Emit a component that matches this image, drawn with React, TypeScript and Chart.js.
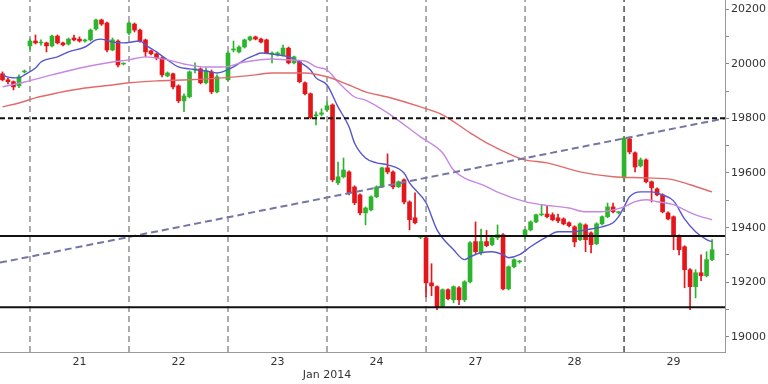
import React, { useEffect, useRef } from 'react';
import { Chart, registerables } from 'chart.js';

Chart.register(...registerables);

// ---- axis ranges ----
const X_MIN = -0.45;
const X_MAX = 131.35;
const Y_MIN = 18945;
const Y_MAX = 20233;

// ---- candles (one per index) ----
const OPEN = [
  19963, 19941, 19934, 19919, 19970,
  20065, 20083, 20076, 20076, 20065, 20101, 20076, 20072, 20094, 20090, 20083, 20087, 20127, 20160, 20149, 20050, 20083, 19999,
  20112, 20145, 20123, 20087, 20047, 20036, 20021, 19955, 19963, 19919, 19864, 19879, 19977, 19981, 19930, 19970, 19897, null,
  19941, 20050, 20043, 20061, 20087, 20098, 20090, 20087, 20036, 20032, 20032, 20057, 20003, 20007, 19930, 19890, 19809, 19815,
  19831, 19849, 19564, 19586, 19604, 19549, 19520, 19454, 19465, 19513, 19549, 19619, 19604, 19550, 19575, 19494, 19436, 19365,
  19363, 19198, 19184, 19111, 19173, 19136, 19180, 19136, 19202, 19349, 19308, 19349, 19338, 19363, 19374, 19176, 19257, 19275,
  19367, 19392, 19421, 19447, 19450, 19447, 19436, 19432, 19418, 19403, 19356, 19410, 19381, 19341, 19414, 19440, 19476, 19455,
  19582, 19725, 19674, 19626, 19648, 19568, 19542, 19520, 19454, 19440, 19370, 19330, 19246, 19184, 19235, 19224, 19283,
];
const HIGH = [
  19970, 19948, 19937, 19959, 19977,
  20090, 20105, 20087, 20079, 20105, 20105, 20079, 20094, 20105, 20098, 20090, 20127, 20163, 20163, 20152, 20094, 20087, 20003,
  20152, 20149, 20127, 20090, 20050, 20039, 20025, 19970, 19966, 19923, 19890, 19974, 20003, 19985, 19985, 19977, 19959, null,
  20043, 20083, 20065, 20090, 20101, 20101, 20094, 20090, 20043, 20043, 20068, 20061, 20028, 20010, 19934, 19893, 19824, 19835,
  19860, 19853, 19640, 19655, 19608, 19553, 19524, 19476, 19516, 19553, 19622, 19670, 19608, 19571, 19579, 19498, 19527, 19370,
  19370, 19268, 19187, 19176, 19176, 19187, 19184, 19206, 19349, 19421, 19395, 19390, 19370, 19410, 19378, 19260, 19286, 19280,
  19396, 19425, 19450, 19483, 19480, 19454, 19450, 19436, 19421, 19407, 19418, 19414, 19385, 19418, 19443, 19490, 19490, 19460,
  19728, 19728, 19677, 19655, 19652, 19571, 19546, 19524, 19458, 19443, 19374, 19334, 19250, 19246, 19301, 19312, 19356,
];
const LOW = [
  19937, 19926, 19904, 19912, 19966,
  20050, 20072, 20068, 20043, 20061, 20072, 20065, 20068, 20083, 20079, 20079, 20083, 20123, 20140, 20043, 20047, 19988, 19995,
  20105, 20116, 20079, 20025, 20032, 20014, 19952, 19952, 19908, 19857, 19824, 19875, 19966, 19926, 19926, 19890, 19893, null,
  19937, 20043, 20039, 20057, 20083, 20087, 20076, 20036, 20003, 20028, 20028, 19999, 19999, 19930, 19886, 19798, 19776, 19809,
  19827, 19568, 19557, 19582, 19520, 19484, 19447, 19410, 19461, 19509, 19546, 19597, 19542, 19546, 19487, 19392, 19414, 19360,
  19147, 19151, 19100, 19107, 19136, 19125, 19118, 19129, 19198, 19305, 19300, 19330, 19334, 19356, 19172, 19172, 19253, 19270,
  19360, 19388, 19418, 19443, 19436, 19425, 19418, 19410, 19403, 19330, 19352, 19312, 19308, 19338, 19410, 19436, 19454, 19450,
  19578, 19670, 19604, 19622, 19564, 19494, 19516, 19454, 19428, 19319, 19300, 19180, 19100, 19143, 19206, 19220, 19279,
];
const CLOSE = [
  19941, 19934, 19915, 19952, 19973,
  20083, 20076, 20079, 20065, 20101, 20076, 20069, 20090, 20087, 20083, 20087, 20123, 20160, 20145, 20050, 20087, 19995, 20002,
  20149, 20123, 20083, 20043, 20036, 20021, 19959, 19966, 19915, 19864, 19882, 19970, 19981, 19930, 19974, 19897, 19952, null,
  20039, 20054, 20061, 20087, 20098, 20090, 20079, 20039, 20039, 20039, 20057, 20003, 20025, 19934, 19890, 19802, 19813, 19820,
  19846, 19575, 19586, 19611, 19527, 19491, 19454, 19472, 19513, 19549, 19619, 19604, 19549, 19568, 19494, 19429, 19418, 19368,
  19198, 19187, 19111, 19173, 19140, 19184, 19136, 19202, 19345, 19312, 19349, 19334, 19363, 19374, 19176, 19257, 19283, 19278,
  19392, 19421, 19447, 19450, 19440, 19429, 19425, 19414, 19407, 19348, 19414, 19356, 19338, 19414, 19440, 19476, 19458, 19458,
  19728, 19677, 19622, 19648, 19568, 19546, 19520, 19458, 19432, 19367, 19319, 19246, 19184, 19235, 19224, 19283, 19319,
];

// ---- moving averages (candle index, value) ----
const FAST_MA_IDX = [0, 1, 3, 4, 6, 7, 10, 12, 15, 17, 18, 20, 22, 25, 26, 28, 30, 32, 34, 37, 39, 40, 42, 44, 46, 47, 50, 52, 54, 56, 57, 59, 61, 63, 64, 66, 68, 70, 73, 74, 77, 79, 82, 84, 85, 87, 89, 91, 92, 94, 96, 99, 101, 104, 106, 109, 111, 112, 113, 114, 116, 118, 120, 122, 124, 126, 128, 129];
const FAST_MA = [19959, 19951, 19948, 19959, 19984, 20006, 20025, 20043, 20061, 20087, 20090, 20079, 20076, 20083, 20068, 20043, 20014, 19988, 19981, 19973, 19966, 19970, 19988, 20014, 20032, 20039, 20032, 20025, 20006, 19977, 19948, 19922, 19842, 19769, 19710, 19655, 19637, 19630, 19600, 19564, 19491, 19392, 19319, 19283, 19293, 19308, 19312, 19301, 19290, 19301, 19330, 19367, 19385, 19385, 19392, 19403, 19418, 19440, 19476, 19513, 19531, 19531, 19520, 19498, 19432, 19385, 19356, 19348];

const MID_MA_IDX = [0, 4, 9, 15, 20, 23, 26, 30, 33, 37, 40, 44, 49, 52, 55, 57, 59, 61, 64, 66, 70, 76, 80, 82, 88, 90, 95, 98, 103, 106, 109, 111, 113, 115, 117, 119, 122, 124, 126, 129];
const MID_MA = [19915, 19933, 19959, 19988, 20006, 20014, 20025, 20014, 19999, 19988, 19988, 20006, 20017, 20014, 20010, 19988, 19977, 19933, 19878, 19867, 19820, 19732, 19674, 19611, 19550, 19530, 19495, 19484, 19472, 19458, 19458, 19465, 19476, 19495, 19502, 19495, 19484, 19465, 19447, 19429];

const SLOW_MA_IDX = [0, 3, 6, 10, 15, 20, 23, 28, 34, 40, 46, 49, 52, 55, 59, 63, 66, 70, 76, 80, 85, 88, 93, 95, 99, 105, 111, 117, 122, 125, 129];
const SLOW_MA = [19842, 19856, 19875, 19893, 19911, 19922, 19930, 19937, 19941, 19948, 19959, 19966, 19966, 19966, 19952, 19922, 19897, 19878, 19842, 19813, 19747, 19710, 19662, 19648, 19637, 19604, 19586, 19582, 19575, 19557, 19531];

// ---- reference lines ----
const RESISTANCE = 19800;
const SUPPORTS = [19369, 19109];
const TREND_IDX = [X_MIN, X_MAX];
const TREND_VAL = [19272, 19800];

// ---- axis labels ----
const DAY_STARTS = [5, 23, 41, 59, 77, 95, 113];
const DAY_LABEL_POS = [14, 32, 50, 68, 86, 104, 122];
const DAY_LABELS = ['21', '22', '23', '24', '27', '28', '29'];
const MONTH_LABEL = 'Jan 2014';
const MONTH_POS = 59;
const Y_TICKS = [19000, 19100, 19200, 19300, 19400, 19500, 19600, 19700, 19800, 19900, 20000, 20100, 20200];

const UP = '#2cb52c';
const DOWN = '#e3161c';
const FONT = 'DejaVu Sans';

export default function App() {
  const ref = useRef<HTMLCanvasElement | null>(null);

  useEffect(() => {
    document.body.style.margin = '0';
    const canvas = ref.current;
    if (!canvas) return;

    const bodies: any[] = [];
    const wicks: any[] = [];
    const colors: string[] = [];
    for (let i = 0; i < OPEN.length; i++) {
      const o = OPEN[i], c = CLOSE[i], h = HIGH[i], l = LOW[i];
      if (o == null || c == null || h == null || l == null) {
        bodies.push({ x: i, y: null });
        wicks.push({ x: i, y: null });
        colors.push(UP);
        continue;
      }
      bodies.push({ x: i, y: [o, c] });
      wicks.push({ x: i, y: [l, h] });
      colors.push(c >= o ? UP : DOWN);
    }

    const maLine = (idx: number[], vals: number[], color: string, order: number) => ({
      type: 'line',
      data: idx.map((x, k) => ({ x, y: vals[k] })),
      borderColor: color,
      borderWidth: 1.4,
      pointRadius: 0,
      cubicInterpolationMode: 'monotone',
      order,
    });

    const labelMap: Record<number, any> = {};
    DAY_LABEL_POS.forEach((p, k) => (labelMap[p] = DAY_LABELS[k]));
    labelMap[MONTH_POS] = ['', MONTH_LABEL];

    const datasets: any[] = [
      ...DAY_STARTS.map((b, k) => ({
        type: 'line',
        data: [{ x: b, y: Y_MIN }, { x: b, y: Y_MAX }],
        borderColor: k === DAY_STARTS.length - 1 ? '#333' : '#808080',
        borderWidth: 1.3,
        borderDash: [6, 4],
        pointRadius: 0,
        order: 6,
      })),
      {
        type: 'bar',
        data: wicks,
        backgroundColor: colors,
        barThickness: 1,
        maxBarThickness: 1,
        grouped: false,
        borderWidth: 0,
        order: 5,
      },
      {
        type: 'bar',
        data: bodies,
        backgroundColor: colors,
        barThickness: 4,
        maxBarThickness: 4,
        grouped: false,
        borderWidth: 0,
        order: 4,
      },
      maLine(SLOW_MA_IDX, SLOW_MA, '#e26a6a', 3),
      maLine(MID_MA_IDX, MID_MA, '#c787e3', 3),
      maLine(FAST_MA_IDX, FAST_MA, '#5656cf', 3),
      {
        type: 'line',
        data: TREND_IDX.map((x, k) => ({ x, y: TREND_VAL[k] })),
        borderColor: '#7676a6',
        borderWidth: 2,
        borderDash: [7, 4],
        pointRadius: 0,
        order: 2,
      },
      {
        type: 'line',
        data: [{ x: X_MIN, y: RESISTANCE }, { x: X_MAX, y: RESISTANCE }],
        borderColor: '#111',
        borderWidth: 2,
        borderDash: [5, 3],
        pointRadius: 0,
        order: 1,
      },
      ...SUPPORTS.map((s) => ({
        type: 'line',
        data: [{ x: X_MIN, y: s }, { x: X_MAX, y: s }],
        borderColor: '#111',
        borderWidth: 2,
        pointRadius: 0,
        order: 1,
      })),
    ];

    const chart = new Chart(canvas, {
      type: 'bar',
      data: { datasets },
      options: {
        animation: false,
        responsive: false,
        layout: { padding: 0 },
        plugins: { legend: { display: false }, tooltip: { enabled: false } },
        scales: {
          x: {
            type: 'linear',
            min: X_MIN,
            max: X_MAX,
            offset: false,
            grid: { display: false, drawTicks: false },
            border: { display: true, color: '#999', width: 1 },
            ticks: {
              autoSkip: false,
              maxRotation: 0,
              padding: 3,
              color: '#333',
              font: { family: FONT, size: 11, lineHeight: 1.25 },
              callback: (v: any) => (labelMap[v] !== undefined ? labelMap[v] : ''),
            },
            afterBuildTicks: (s: any) => {
              s.ticks = [...DAY_LABEL_POS, MONTH_POS].sort((a, b) => a - b).map((value) => ({ value }));
            },
            afterFit: (s: any) => {
              s.height = 32;
              s.paddingLeft = 0;
              s.paddingRight = 0;
            },
          },
          y: {
            type: 'linear',
            position: 'right',
            min: Y_MIN,
            max: Y_MAX,
            grid: { drawOnChartArea: false, drawTicks: true, tickLength: 4, color: '#888' },
            border: { display: true, color: '#999', width: 1 },
            ticks: {
              padding: 2,
              color: '#333',
              font: { family: FONT, size: 11 },
              callback: (v: any) => (Number(v) % 200 === 0 ? String(v) : ''),
            },
            afterBuildTicks: (s: any) => {
              s.ticks = Y_TICKS.map((value) => ({ value }));
            },
            afterFit: (s: any) => {
              s.width = 43;
              s.paddingTop = 0;
              s.paddingBottom = 0;
            },
          },
        },
      } as any,
    });

    return () => chart.destroy();
  }, []);

  return (
    <div style={{ position: 'fixed', left: 0, top: 0, width: 768, height: 384, background: '#fff' }}>
      <canvas ref={ref} width={768} height={384} />
    </div>
  );
}
